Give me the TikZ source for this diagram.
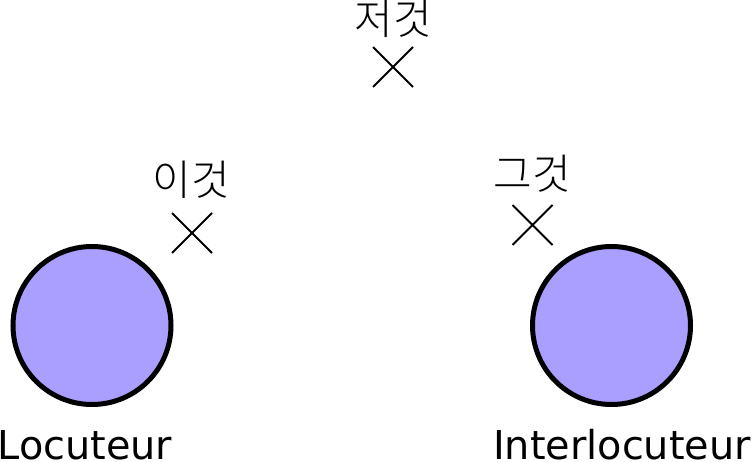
\documentclass[tikz,border=0pt]{standalone}
\usepackage{fontspec}
\setmainfont{DejaVu Sans}
\newfontfamily\kofont{Noto Sans CJK KR}[UprightFont={* Light}]
\usetikzlibrary{shapes.misc}
\definecolor{personfill}{HTML}{AA9FFF}
\begin{document}
\begin{tikzpicture}[x=1pt,y=-1pt,
  person/.style={circle,draw=black,fill=personfill,line width=5pt,minimum size=158pt,inner sep=0pt},
  spot/.style={cross out,draw=black,line width=2pt,minimum size=40pt,inner sep=0pt,outer sep=0pt},
  kolabel/.style={font=\kofont\fontsize{42}{46}\selectfont,inner sep=0pt,anchor=center},
  namelabel/.style={font=\fontsize{39.8}{46}\selectfont,inner sep=0pt,anchor=base}]
\useasboundingbox (0,0) rectangle (754,462);
\node[person] (loc) at (92,325.5) {};
\node[person] (inter) at (611.5,325.5) {};
\node[spot] (far) at (393,67) {};
\node[spot] (near) at (192,233) {};
\node[spot] (mid) at (532.5,225) {};
\node[kolabel] (farlab) at (393,19) {저것};
\node[kolabel] (nearlab) at (191,180) {이것};
\node[kolabel] (midlab) at (532,174) {그것};
\node[namelabel] (locname) at (85,459.5) {Locuteur};
\node[namelabel] (intername) at (622,459.5) {Interlocuteur};
\end{tikzpicture}
\end{document}
